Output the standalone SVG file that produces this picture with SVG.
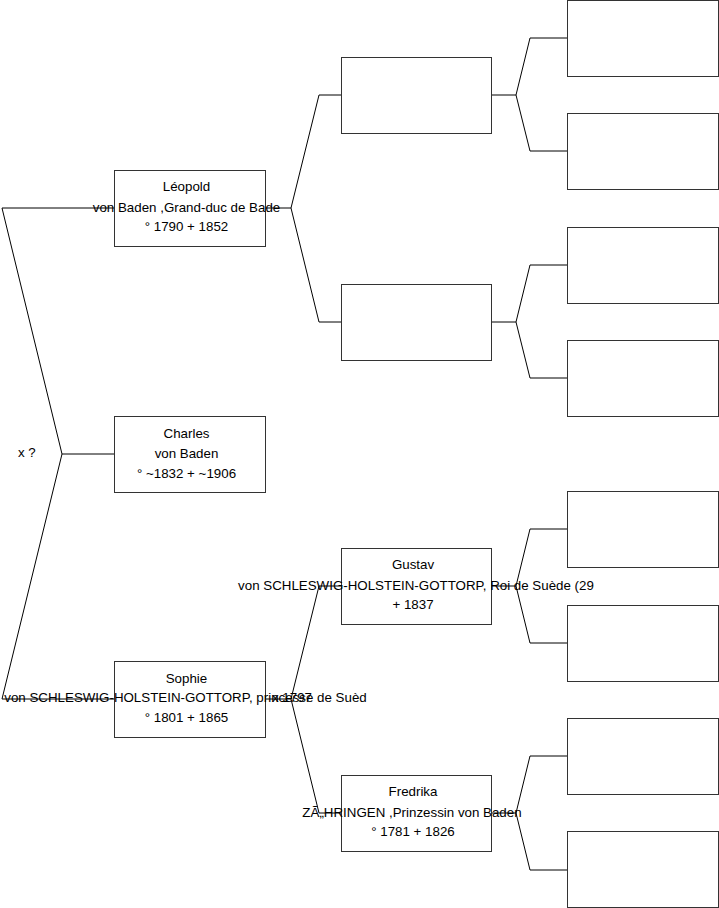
<svg xmlns="http://www.w3.org/2000/svg" width="719" height="908" viewBox="0 0 719 908">
<style>
.box{fill:#fff;stroke:#333;stroke-width:1}
.c{fill:none;stroke:#000;stroke-width:1}
text{font-family:"Liberation Sans",Arial,sans-serif;font-size:13.33px;fill:#000}
.m{text-anchor:middle}
</style>
<rect width="719" height="908" fill="#fff"/>
<g id="connectors">
<polyline class="c" points="114,208 2,208 62,454 2,699 114,699"/>
<line class="c" x1="62" y1="454" x2="114" y2="454"/>
<polyline class="c" points="265,208 291,208"/>
<polyline class="c" points="341,95 319,95 291,208 319,322 341,322"/>
<polyline class="c" points="265,699 291,699"/>
<polyline class="c" points="341,586 319,586 291,699 319,813 341,813"/>
<polyline class="c" points="492,95 516,95"/>
<polyline class="c" points="567,38 530,38 516,95 530,151 567,151"/>
<polyline class="c" points="492,322 516,322"/>
<polyline class="c" points="567,265 530,265 516,322 530,378 567,378"/>
<polyline class="c" points="492,586 516,586"/>
<polyline class="c" points="567,529 530,529 516,586 530,643 567,643"/>
<polyline class="c" points="492,813 516,813"/>
<polyline class="c" points="567,756 530,756 516,813 530,870 567,870"/>
</g>
<g id="leopold">
<rect class="box" x="114.5" y="170.5" width="151" height="76"/>
<text class="m" x="186.5" y="191">Léopold</text>
<text class="m" x="186.5" y="212">von Baden ,Grand-duc de Bade</text>
<text class="m" x="186.5" y="231">° 1790 + 1852</text>
</g>
<g id="charles">
<rect class="box" x="114.5" y="416.5" width="151" height="76"/>
<text class="m" x="186.5" y="438">Charles</text>
<text class="m" x="186.5" y="458">von Baden</text>
<text class="m" x="186.5" y="478">° ~1832 + ~1906</text>
</g>
<g id="sophie">
<rect class="box" x="114.5" y="661.5" width="151" height="76"/>
<text class="m" x="186.5" y="683">Sophie</text>
<text class="m" x="185.5" y="702">von SCHLESWIG-HOLSTEIN-GOTTORP, princesse de Suèd</text>
<text class="m" x="186.5" y="722">° 1801 + 1865</text>
</g>
<g id="marriage-root"><text x="18" y="457">x ?</text></g>
<g id="marriage-sophie-parents"><text x="272" y="702">x 1797</text></g>
<g id="p1"><rect class="box" x="341.5" y="57.5" width="150" height="76"/></g>
<g id="p2"><rect class="box" x="341.5" y="284.5" width="150" height="76"/></g>
<g id="gustav">
<rect class="box" x="341.5" y="548.5" width="150" height="76"/>
<text class="m" x="413" y="569">Gustav</text>
<text class="m" x="416" y="590">von SCHLESWIG-HOLSTEIN-GOTTORP, Roi de Suède (29</text>
<text class="m" x="413" y="609">+ 1837</text>
</g>
<g id="fredrika">
<rect class="box" x="341.5" y="775.5" width="150" height="76"/>
<text class="m" x="413" y="796">Fredrika</text>
<text class="m" x="412" y="817">ZÃ„HRINGEN ,Prinzessin von Baden</text>
<text class="m" x="413" y="836">° 1781 + 1826</text>
</g>
<g id="g1"><rect class="box" x="567.5" y="0.5" width="151" height="76"/></g>
<g id="g2"><rect class="box" x="567.5" y="113.5" width="151" height="76"/></g>
<g id="g3"><rect class="box" x="567.5" y="227.5" width="151" height="76"/></g>
<g id="g4"><rect class="box" x="567.5" y="340.5" width="151" height="76"/></g>
<g id="g5"><rect class="box" x="567.5" y="491.5" width="151" height="76"/></g>
<g id="g6"><rect class="box" x="567.5" y="605.5" width="151" height="76"/></g>
<g id="g7"><rect class="box" x="567.5" y="718.5" width="151" height="76"/></g>
<g id="g8"><rect class="box" x="567.5" y="831.5" width="151" height="76"/></g>
</svg>
